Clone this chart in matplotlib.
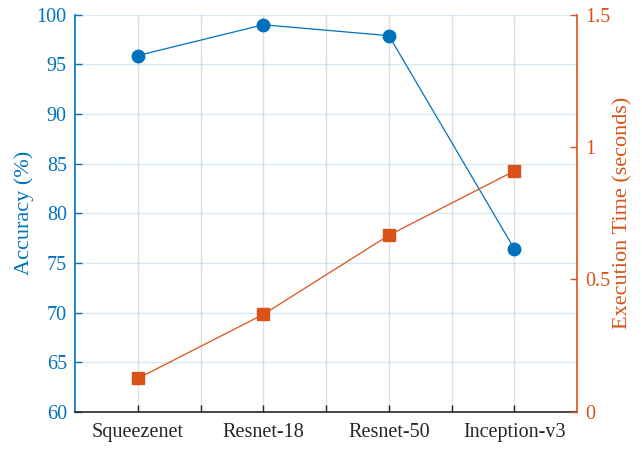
import numpy as np
import matplotlib
matplotlib.use("Agg")
import matplotlib.pyplot as plt

models = ["Squeezenet", "Resnet-18", "Resnet-50", "Inception-v3"]
accuracy = [95.9, 99.0, 97.9, 76.4]
exec_time = [0.126, 0.368, 0.667, 0.910]

BLUE = "#0072BD"
ORANGE = "#D95319"
DARK = "#262626"

plt.rcParams["font.family"] = ["Liberation Serif", "DejaVu Serif"]

fig = plt.figure(figsize=(6.42, 4.5), dpi=100)
ax = fig.add_axes([0.117, 0.085, 0.782, 0.882])
ax2 = ax.twinx()

x = np.arange(1, len(models) + 1)

ax.plot(x, accuracy, color=BLUE, lw=0.9, marker="o", ms=9, mfc=BLUE, mec=BLUE)
ax2.plot(x, exec_time, color=ORANGE, lw=0.9, marker="s", ms=8, mfc=ORANGE, mec=ORANGE)

ax.set_xlim(0.5, 4.5)
ax.set_ylim(60, 100)
ax2.set_ylim(0, 1.5)

# ticks every half step, labels only on the models
ax.set_xticks(np.arange(1, 4.01, 0.5))
ax.set_xticklabels([models[0], "", models[1], "", models[2], "", models[3]])
ax.set_yticks(np.arange(60, 101, 5))
ax2.set_yticks([0, 0.5, 1, 1.5])
ax2.set_yticklabels(["0", "0.5", "1", "1.5"])

# grid: horizontal follows left axis colour, vertical is gray
ax.yaxis.grid(True, color=BLUE, alpha=0.15, lw=1.0)
ax.xaxis.grid(True, color=DARK, alpha=0.15, lw=1.0)
ax.set_axisbelow(True)

ax.spines["top"].set_visible(False)
ax2.spines["top"].set_visible(False)
ax.spines["left"].set_color(BLUE)
ax2.spines["left"].set_visible(False)
ax2.spines["right"].set_color(ORANGE)
ax.spines["right"].set_visible(False)
ax2.spines["bottom"].set_visible(False)
ax.spines["bottom"].set_color(DARK)
for sp in [ax.spines["left"], ax.spines["bottom"], ax2.spines["right"]]:
    sp.set_linewidth(1.2)

ax.tick_params(axis="x", direction="in", colors=DARK, labelsize=14.5, length=5, width=1, pad=8)
ax.tick_params(axis="y", direction="in", colors=BLUE, labelsize=14.5, length=5, width=1, pad=6)
ax2.tick_params(axis="y", direction="in", colors=ORANGE, labelsize=14.5, length=5, width=1, pad=6)

ax.set_ylabel("Accuracy (%)", color=BLUE, fontsize=16, labelpad=2)
ax2.set_ylabel("Execution Time (seconds)", color=ORANGE, fontsize=16, labelpad=2)

fig.savefig("out.png", dpi=100)
